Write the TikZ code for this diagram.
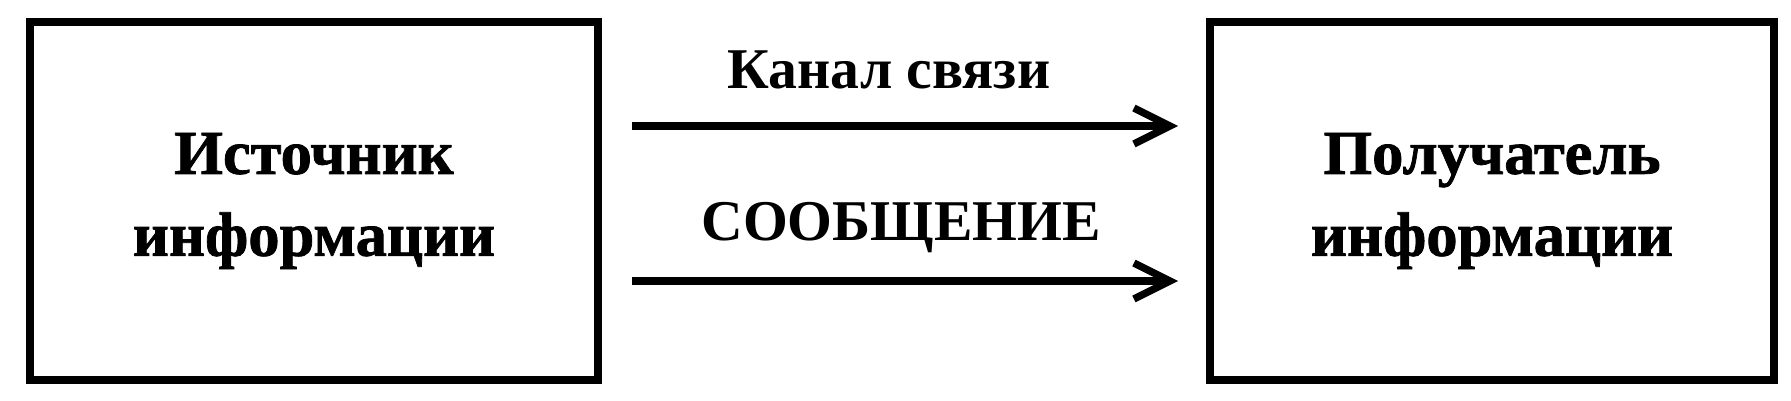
\documentclass[tikz,border=0pt]{standalone}
\usepackage{fontspec}
\setmainfont{Liberation Serif}
\newfontfamily\heavyfont{Liberation Serif}[BoldFeatures={FakeBold=1.2}]
\usetikzlibrary{arrows.meta,positioning,calc}

\begin{document}
\begin{tikzpicture}[
        box/.style={draw,line width=2.2pt,minimum height=3.58cm,inner sep=0pt,
            align=center,font=\fontsize{17.8}{23.3}\selectfont\heavyfont\bfseries},
        msg/.style={line width=2.1pt,-{Straight Barb[length=3.6mm,width=3.6mm]}},
        lbl/.style={anchor=base,inner sep=0pt,font=\fontsize{16.4}{19}\selectfont\bfseries}
    ]
        \useasboundingbox (0,0) rectangle (17.91,4);

        % Boxes
        \node[box,minimum width=5.68cm] (src) at (3.14, 1.99) {Источник\\информации};
        \node[box,minimum width=5.64cm] (dst) at (14.92, 1.99) {Получатель\\информации};

        % Labels
        \node[lbl] (channel) at (8.89, 3.12) {Канал связи};
        \node[lbl] (message) at (9.01, 1.60) {СООБЩЕНИЕ};

        % Arcs
        \draw[msg,shorten <=0.30cm,shorten >=0.28cm] ([yshift=0.75cm]src.east) -- ([yshift=0.75cm]dst.west);
        \draw[msg,shorten <=0.30cm,shorten >=0.28cm] ([yshift=-0.80cm]src.east) -- ([yshift=-0.80cm]dst.west);
    \end{tikzpicture}
\end{document}
